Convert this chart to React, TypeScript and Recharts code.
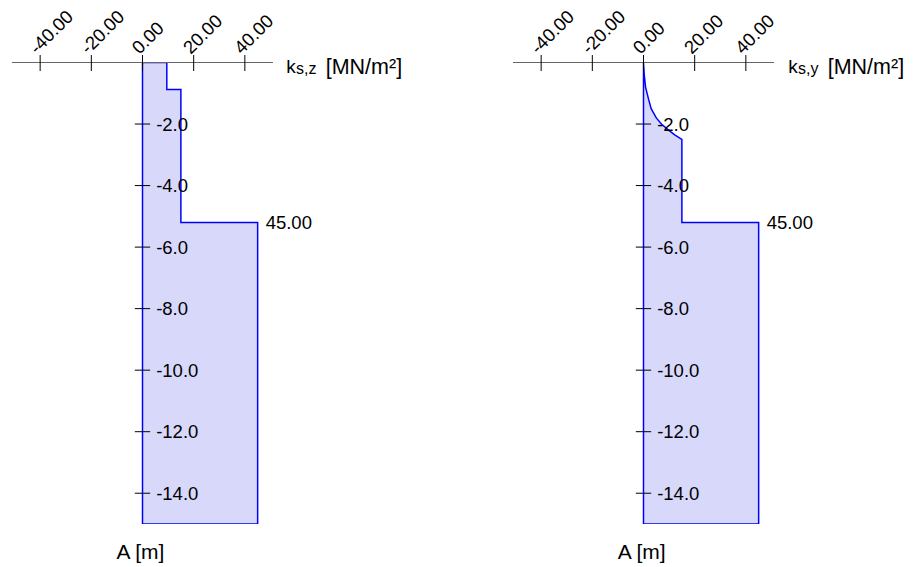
import React from 'react';
import { ComposedChart, Area, XAxis, YAxis, ReferenceLine, ReferenceDot } from 'recharts';

const FONT = '"Liberation Sans", Arial, Helvetica, sans-serif';

const xTicks = [-40, -20, 0, 20, 40];
const depthTicks = [-2, -4, -6, -8, -10, -12, -14];
const depthTickLabels = ['-2.0', '-4.0', '-6.0', '-8.0', '-10.0', '-12.0', '-14.0'];

// left diagram k_s,z (closed outline, depth in m, value in MN/m²)
const leftDepth = [0, 0, -0.88, -0.88, -5.2, -5.2, -15, -15, 0];
const leftK = [0, 9.5, 9.5, 15, 15, 45, 45, 0, 0];

// right diagram k_s,y
const rightDepth = [0, -0.4, -0.8, -1.2, -1.5, -1.8, -2.0, -2.2, -2.35, -2.5, -5.2, -5.2, -15, -15, 0];
const rightK = [0, 0.3, 0.8, 2.0, 3.0, 5.0, 7.0, 9.8, 12.2, 15, 15, 45, 45, 0, 0];

const leftLabels = [{ d: -5.2, v: 45, text: '45.00' }];
const rightLabels = [{ d: -5.2, v: 45, text: '45.00' }];

const XTick = (props: any) => {
  const { x, y, payload } = props;
  const tx = x - 3;
  const ty = y - 7.5;
  return (
    <g>
      <line x1={x} x2={x} y1={y - 7.5} y2={y + 8.5} stroke="#000" strokeWidth={1} />
      <text
        x={tx}
        y={ty}
        transform={`rotate(-45 ${tx} ${ty})`}
        textAnchor="start"
        fontSize={18.5}
        fontFamily={FONT}
        fill="#000"
      >
        {Number(payload.value).toFixed(2)}
      </text>
    </g>
  );
};

type DiagramProps = {
  depth: number[];
  k: number[];
  labels: { d: number; v: number; text: string }[];
  width: number;
};

const Diagram = ({ depth, k, labels, width }: DiagramProps) => {
  const data = depth.map((d, i) => ({ d, v: k[i] }));
  return (
    <ComposedChart
      width={width}
      height={567}
      data={data}
      layout="vertical"
      margin={{ top: 12.5, left: 12, right: width - 12 - 261, bottom: 43 }}
    >
      <YAxis type="number" dataKey="d" domain={[-15, 0]} reversed hide allowDataOverflow />
      <Area
        type="linear"
        dataKey="v"
        stroke="#0000ff"
        strokeWidth={1.5}
        fill="#d8d8fb"
        fillOpacity={1}
        dot={false}
        activeDot={false}
        isAnimationActive={false}
      />
      <XAxis
        type="number"
        orientation="top"
        domain={[-51, 51]}
        ticks={xTicks}
        interval={0}
        height={50}
        tickSize={0}
        tickMargin={0}
        tickLine={false}
        axisLine={{ stroke: '#666', strokeWidth: 1 }}
        tick={<XTick />}
        allowDataOverflow
      />
      {depthTicks.map((t, i) => (
        <ReferenceLine
          key={t}
          segment={[
            { x: -3, y: t },
            { x: 3, y: t },
          ]}
          stroke="#000"
          strokeWidth={1}
          label={{
            value: depthTickLabels[i],
            position: 'right',
            offset: 6,
            fill: '#000',
            fontSize: 18.5,
            fontFamily: FONT,
          }}
        />
      ))}
      {labels.map((l) => (
        <ReferenceDot
          key={l.text}
          x={l.v}
          y={l.d}
          r={0}
          fill="none"
          stroke="none"
          label={{ value: l.text, position: 'right', offset: 8, fill: '#000', fontSize: 18.5, fontFamily: FONT }}
        />
      ))}
    </ComposedChart>
  );
};

const Title = ({ x, sub }: { x: number; sub: string }) => (
  <>
    <text x={x} y={73} fontSize={19} fontFamily={FONT} fill="#000">k</text>
    <text x={x + 9.8} y={73.5} fontSize={16} fontFamily={FONT} fill="#000">{sub}</text>
    <text x={x + 39.5} y={73.5} fontSize={21.5} fontFamily={FONT} fill="#000">[MN/m²]</text>
  </>
);

export default function App() {
  return (
    <div style={{ position: 'absolute', left: 0, top: 0, width: 919, height: 567, background: '#fff' }}>
      <div style={{ position: 'absolute', left: 0, top: 0 }}>
        <Diagram depth={leftDepth} k={leftK} labels={leftLabels} width={460} />
      </div>
      <div style={{ position: 'absolute', left: 501.3, top: 0 }}>
        <Diagram depth={rightDepth} k={rightK} labels={rightLabels} width={418} />
      </div>
      <svg
        width={919}
        height={567}
        style={{ position: 'absolute', left: 0, top: 0, pointerEvents: 'none' }}
      >
        <Title x={286.2} sub="s,z" />
        <Title x={788.2} sub="s,y" />
        <text x={116.5} y={559} fontSize={21} fontFamily={FONT} fill="#000">A [m]</text>
        <text x={617.8} y={559} fontSize={21} fontFamily={FONT} fill="#000">A [m]</text>
      </svg>
    </div>
  );
}
